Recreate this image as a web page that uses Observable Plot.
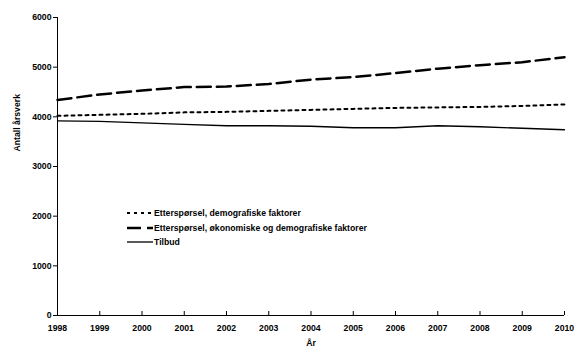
<!DOCTYPE html>
<html><head><meta charset="utf-8">
<script src="https://cdn.jsdelivr.net/npm/d3@7"></script>
<script src="https://cdn.jsdelivr.net/npm/@observablehq/plot@0.6"></script>
<style>
body{margin:0;background:#fff;font-family:"Liberation Sans",Arial,sans-serif;}
#wrap{position:relative;width:584px;height:363px;}
#legend{position:absolute;left:127px;top:206px;font-size:8.7px;font-weight:bold;color:#000;}
#legend div{display:flex;align-items:center;height:14.5px;}
#legend svg{margin-right:1px;}
</style></head>
<body><div id="wrap"><div id="legend"></div></div>
<script>
const years = [1998,1999,2000,2001,2002,2003,2004,2005,2006,2007,2008,2009,2010];
const demografisk = [4020,4040,4060,4090,4100,4120,4140,4160,4180,4190,4200,4220,4250];
const okonomisk = [4340,4450,4530,4600,4610,4660,4750,4800,4880,4970,5040,5100,5200];
const tilbud = [3920,3910,3880,3850,3820,3820,3810,3780,3780,3820,3800,3770,3740];
const seriesNames = ["Etterspørsel, demografiske faktorer","Etterspørsel, økonomiske og demografiske faktorer","Tilbud"];
const yTicks = [0,1000,2000,3000,4000,5000,6000];

const styles = [
  {stroke:"#000", strokeWidth:2, strokeDasharray:"3,4"},
  {stroke:"#000", strokeWidth:2.5, strokeDasharray:"14,6"},
  {stroke:"#000", strokeWidth:1.3, strokeDasharray:null}
];
const seriesData = [demografisk, okonomisk, tilbud].map((vals,k)=>years.map((y,i)=>({year:y, value:vals[i], s:k})));

const chart = Plot.plot({
  width:584, height:363,
  marginLeft:57, marginRight:20, marginTop:17, marginBottom:48,
  style:{fontFamily:"Liberation Sans, Arial, sans-serif", fontSize:"8.7px", fontWeight:"bold", color:"#000", background:"#fff"},
  x:{domain:[1998,2010]},
  y:{domain:[0,6000]},
  marks:[
    Plot.axisY({ticks:yTicks, tickSize:4, tickPadding:2, tickFormat:d=>String(d), label:null}),
    Plot.text(["Antall årsverk"],{frameAnchor:"left", dx:-40, dy:-15, rotate:-90, fontSize:8.7, fontWeight:"bold"}),
    Plot.axisX({ticks:years, tickSize:0, tickPadding:9, tickFormat:d=>String(d), label:null}),
    Plot.text(["År"],{frameAnchor:"bottom", dy:30, fontSize:8.7, fontWeight:"bold"}),
    Plot.ruleX(years,{x:d=>d, y1:0, y2:0, insetTop:-4, stroke:"#000"}),
    Plot.ruleY([0],{stroke:"#000"}),
    Plot.ruleX([1998],{stroke:"#000"}),
    ...seriesData.map((d,k)=>Plot.line(d,{x:"year", y:"value", ...styles[k]}))
  ]
});
document.getElementById("wrap").prepend(chart);

const leg = document.getElementById("legend");
seriesNames.forEach((name,k)=>{
  const row = document.createElement("div");
  const st = styles[k];
  row.innerHTML = `<svg width="26" height="6"><line x1="0" y1="3" x2="26" y2="3" stroke="#000" stroke-width="${st.strokeWidth}" ${st.strokeDasharray?`stroke-dasharray="${st.strokeDasharray}"`:""}/></svg><span>${name}</span>`;
  leg.appendChild(row);
});
</script></body></html>
